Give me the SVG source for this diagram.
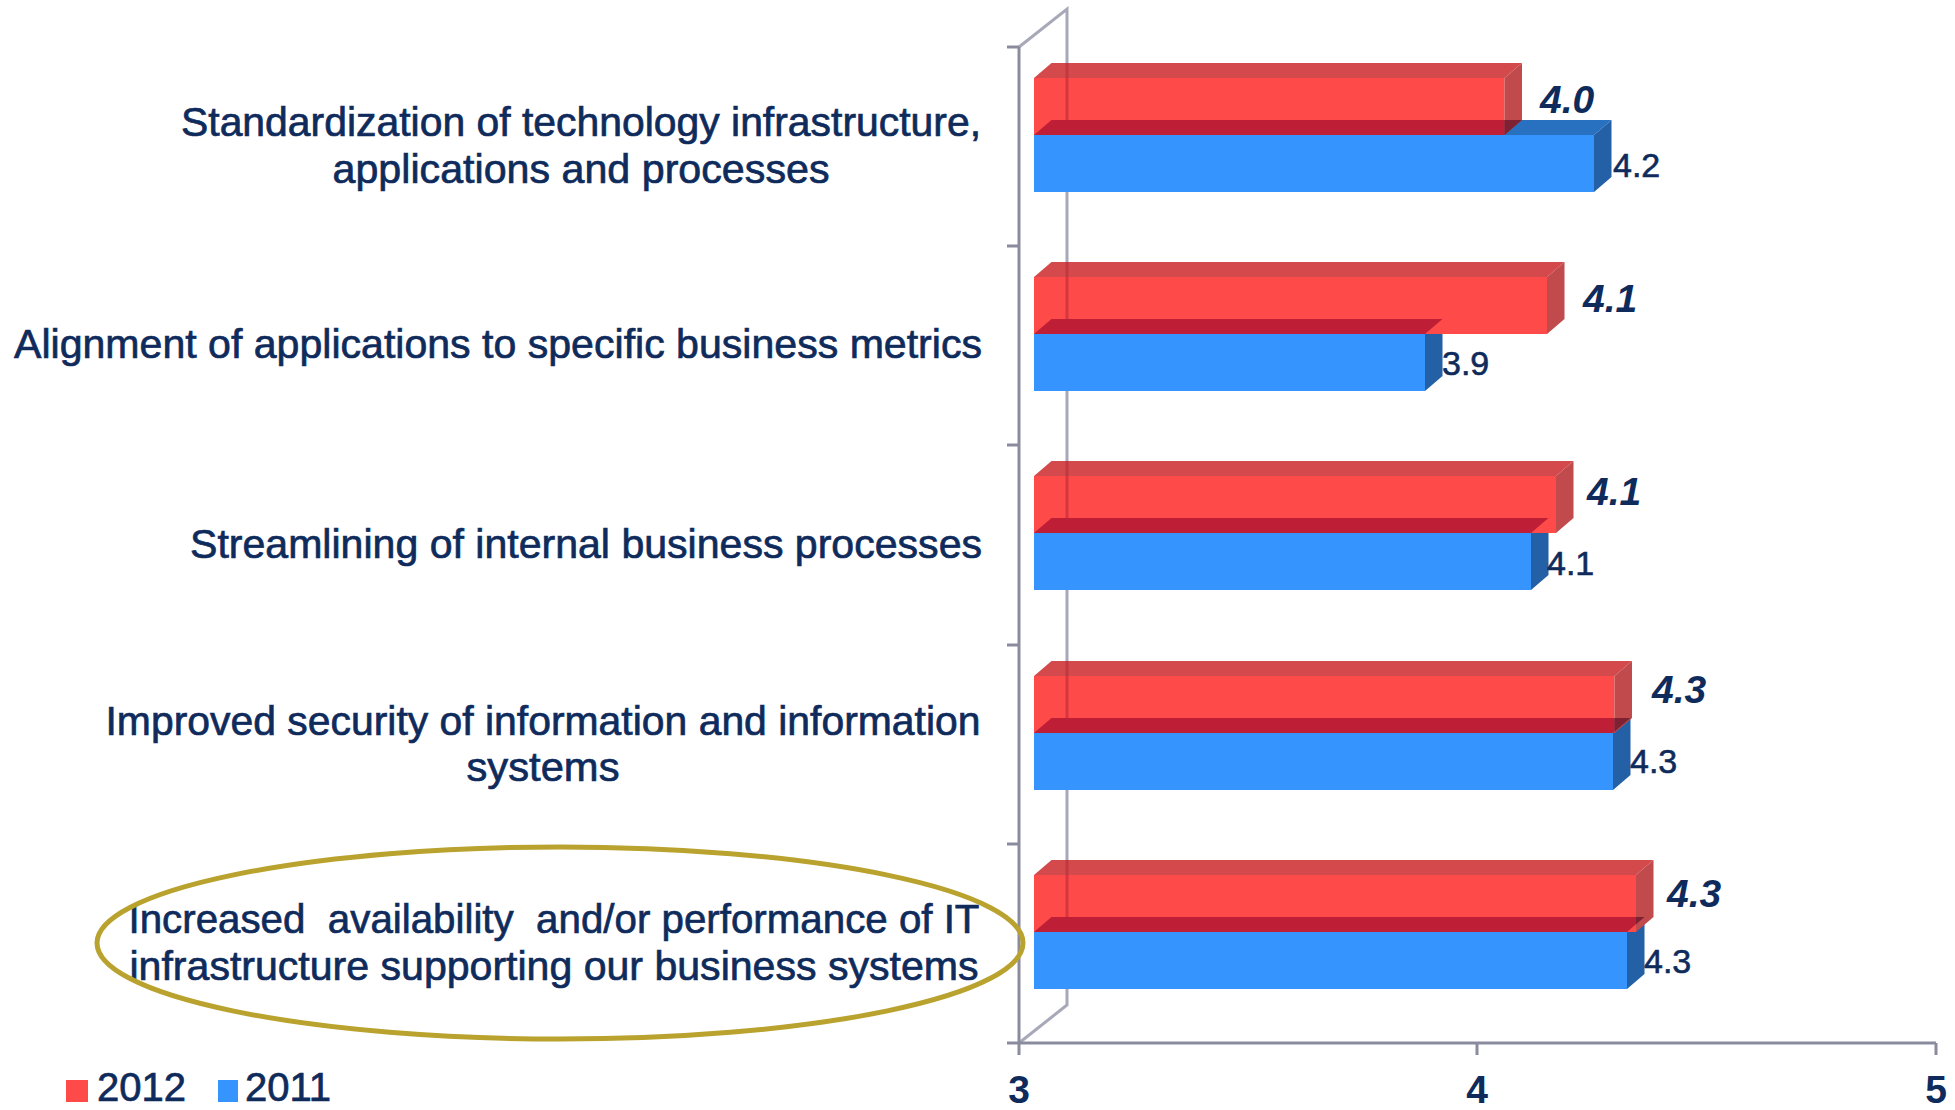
<svg xmlns="http://www.w3.org/2000/svg" width="1955" height="1110" viewBox="0 0 1955 1110">
<style>
.lbl{font-family:"Liberation Sans",Arial,sans-serif;font-size:41px;fill:#0F2B5C;stroke:#0F2B5C;stroke-width:0.7px;text-anchor:middle}
.vb{font-family:"Liberation Sans",Arial,sans-serif;font-size:39px;font-weight:bold;font-style:italic;fill:#0F2B5C}
.vr{font-family:"Liberation Sans",Arial,sans-serif;font-size:34px;fill:#0F2B5C;stroke:#0F2B5C;stroke-width:0.6px}
.ax{font-family:"Liberation Sans",Arial,sans-serif;font-size:39px;font-weight:bold;fill:#0F2B5C;text-anchor:middle}
.lg{font-family:"Liberation Sans",Arial,sans-serif;font-size:40px;fill:#0F2B5C;stroke:#0F2B5C;stroke-width:0.7px}
.axis{stroke:#8A8C9E;stroke-width:3;fill:none}
.wall{stroke:#A8A9B8;stroke-width:3;fill:none}
.bt{fill:#2870C0}.bf{fill:#3594FD}.bs{fill:#2360A6}
.rt{fill:#D44A4C}.rf{fill:#FF4A4A}.rs{fill:#C04A4C}
.band{fill:#BE1F37}.dk{fill:#7E2233}
.thru{stroke:#B02A34;stroke-opacity:0.55;stroke-width:3}
</style>
<rect width="1955" height="1110" fill="#FFFFFF"/>
<g id="axes">
<polyline class="wall" points="1019,47 1067,9 1067,1005 1019,1043"/>
<line class="axis" x1="1019" y1="47" x2="1019" y2="1043"/>
<line class="axis" x1="1019" y1="1043" x2="1936" y2="1043"/>
<path class="axis" d="M1007,47H1019M1007,246H1019M1007,445H1019M1007,645H1019M1007,844H1019M1007,1043H1019M1019,1043V1055M1477,1043V1055M1936,1043V1055"/>
<text class="ax" x="1019" y="1103">3</text>
<text class="ax" x="1477" y="1103">4</text>
<text class="ax" x="1936" y="1103">5</text>
</g>
<g id="cat1">
<polygon class="bt" points="1034,135 1051.5,120 1611.5,120 1594,135"/>
<rect class="bf" x="1034" y="135" width="560" height="57"/>
<polygon class="bs" points="1594,135 1611.5,120 1611.5,177 1594,192"/>
<polygon class="rt" points="1034,78 1051.5,63 1522,63 1504.5,78"/>
<rect class="rf" x="1034" y="78" width="470.5" height="57"/>
<polygon class="rs" points="1504.5,78 1522,63 1522,120 1504.5,135"/>
<polygon class="band" points="1034,135 1051.5,120 1504.5,120 1504.5,135"/>
<polygon class="dk" points="1504.5,120 1522,120 1504.5,135"/>
<line class="thru" x1="1067" y1="63" x2="1067" y2="120"/>
<text class="vb" x="1540" y="113">4.0</text>
<text class="vr" x="1613" y="177">4.2</text>
<text class="lbl" x="581" y="136" textLength="800" lengthAdjust="spacingAndGlyphs">Standardization of technology infrastructure,</text>
<text class="lbl" x="581" y="183" textLength="497" lengthAdjust="spacingAndGlyphs">applications and processes</text>
</g>
<g id="cat2">
<polygon class="bt" points="1034,334 1051.5,319 1442.5,319 1425,334"/>
<rect class="bf" x="1034" y="334" width="391" height="57"/>
<polygon class="bs" points="1425,334 1442.5,319 1442.5,376 1425,391"/>
<polygon class="rt" points="1034,277 1051.5,262 1564.5,262 1547,277"/>
<rect class="rf" x="1034" y="277" width="513" height="57"/>
<polygon class="rs" points="1547,277 1564.5,262 1564.5,319 1547,334"/>
<polygon class="band" points="1034,334 1051.5,319 1442.5,319 1425,334"/>
<line class="thru" x1="1067" y1="262" x2="1067" y2="319"/>
<text class="vb" x="1583" y="312">4.1</text>
<text class="vr" x="1442" y="375">3.9</text>
<text class="lbl" x="498" y="358" textLength="968" lengthAdjust="spacingAndGlyphs">Alignment of applications to specific business metrics</text>
</g>
<g id="cat3">
<polygon class="bt" points="1034,533 1051.5,518 1548.5,518 1531,533"/>
<rect class="bf" x="1034" y="533" width="497" height="57"/>
<polygon class="bs" points="1531,533 1548.5,518 1548.5,575 1531,590"/>
<polygon class="rt" points="1034,476 1051.5,461 1573.5,461 1556,476"/>
<rect class="rf" x="1034" y="476" width="522" height="57"/>
<polygon class="rs" points="1556,476 1573.5,461 1573.5,518 1556,533"/>
<polygon class="band" points="1034,533 1051.5,518 1548.5,518 1531,533"/>
<line class="thru" x1="1067" y1="461" x2="1067" y2="518"/>
<text class="vb" x="1587" y="505">4.1</text>
<text class="vr" x="1547" y="575">4.1</text>
<text class="lbl" x="586" y="558" textLength="792" lengthAdjust="spacingAndGlyphs">Streamlining of internal business processes</text>
</g>
<g id="cat4">
<polygon class="bt" points="1034,733 1051.5,718 1630.5,718 1613,733"/>
<rect class="bf" x="1034" y="733" width="579" height="57"/>
<polygon class="bs" points="1613,733 1630.5,718 1630.5,775 1613,790"/>
<polygon class="rt" points="1034,676 1051.5,661 1632,661 1614.5,676"/>
<rect class="rf" x="1034" y="676" width="580.5" height="57"/>
<polygon class="rs" points="1614.5,676 1632,661 1632,718 1614.5,733"/>
<polygon class="band" points="1034,733 1051.5,718 1614.5,718 1614.5,731.7 1613,733"/>
<polygon class="dk" points="1614.5,718 1630.5,718 1614.5,731.7"/>
<line class="thru" x1="1067" y1="661" x2="1067" y2="718"/>
<text class="vb" x="1652" y="703">4.3</text>
<text class="vr" x="1630" y="773">4.3</text>
<text class="lbl" x="543" y="735" textLength="875" lengthAdjust="spacingAndGlyphs">Improved security of information and information</text>
<text class="lbl" x="543" y="781" textLength="153" lengthAdjust="spacingAndGlyphs">systems</text>
</g>
<g id="cat5">
<polygon class="bt" points="1034,932 1051.5,917 1644.5,917 1627,932"/>
<rect class="bf" x="1034" y="932" width="593" height="57"/>
<polygon class="bs" points="1627,932 1644.5,917 1644.5,974 1627,989"/>
<polygon class="rt" points="1034,875 1051.5,860 1653.5,860 1636,875"/>
<rect class="rf" x="1034" y="875" width="602" height="57"/>
<polygon class="rs" points="1636,875 1653.5,860 1653.5,917 1636,932"/>
<polygon class="band" points="1034,932 1051.5,917 1636,917 1636,924.3 1627,932"/>
<polygon class="dk" points="1636,917 1644.5,917 1636,924.3"/>
<line class="thru" x1="1067" y1="860" x2="1067" y2="917"/>
<text class="vb" x="1667" y="907">4.3</text>
<text class="vr" x="1644" y="973">4.3</text>
<text class="lbl" x="554" y="933" textLength="851" lengthAdjust="spacingAndGlyphs" xml:space="preserve">Increased  availability  and/or performance of IT</text>
<text class="lbl" x="554" y="980" textLength="849" lengthAdjust="spacingAndGlyphs">infrastructure supporting our business systems</text>
</g>
<g id="highlight">
<ellipse cx="560" cy="943" rx="463" ry="96" fill="none" stroke="#B9A22E" stroke-width="5"/>
</g>
<g id="legend">
<rect x="66" y="1080" width="22" height="22" fill="#FF4A4A"/>
<text class="lg" x="97" y="1101">2012</text>
<rect x="218" y="1080" width="20" height="22" fill="#3594FD"/>
<text class="lg" x="245" y="1101">2011</text>
</g>
</svg>
